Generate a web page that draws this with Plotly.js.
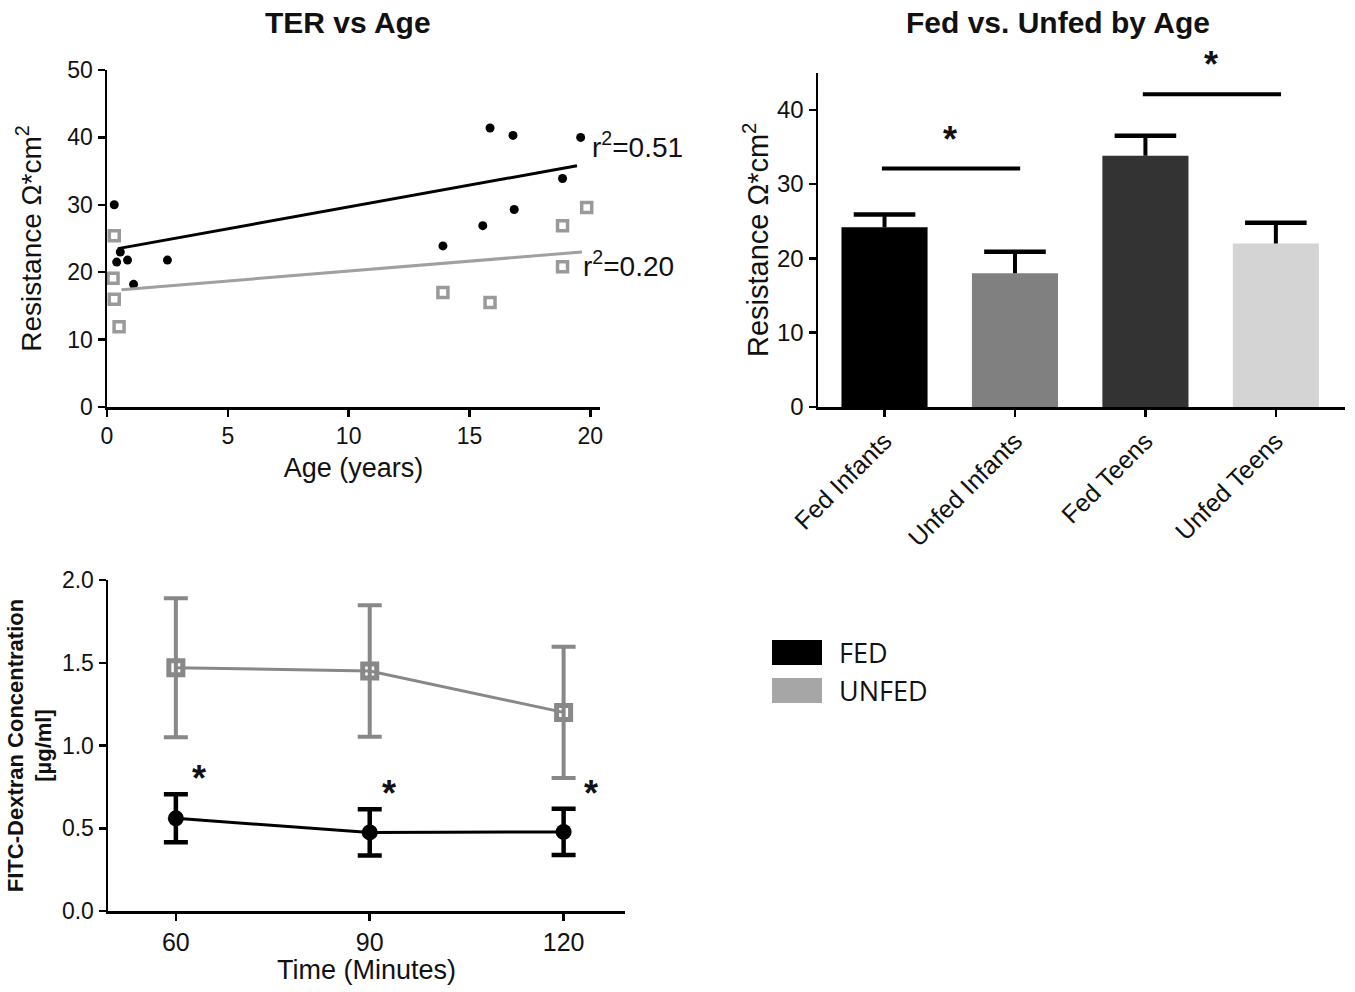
<!DOCTYPE html>
<html>
<head>
<meta charset="utf-8">
<script src="https://cdn.plot.ly/plotly-3.0.1.min.js"></script>
<style>html,body{margin:0;padding:0;background:#fff;}#chart{width:1355px;height:992px;}</style>
</head>
<body>
<div id="chart"></div>
<script>
// ---- Panel 1: TER vs Age ----
const fedAge = [0.3, 0.4, 0.55, 0.85, 1.1, 2.5, 13.9, 15.55, 15.85, 16.8, 16.85, 18.85, 19.6];
const fedTER = [30.0, 21.5, 23.0, 21.8, 18.2, 21.8, 23.9, 26.9, 41.4, 40.3, 29.3, 33.9, 40.0];
const unfedAge = [0.3, 0.25, 0.3, 0.5, 13.9, 15.85, 18.85, 18.85, 19.85];
const unfedTER = [25.4, 19.1, 16.0, 11.9, 17.0, 15.5, 20.8, 26.9, 29.6];
const fedFitX = [0.45, 19.45];
const fedFitY = [23.5, 35.8];
const unfedFitX = [0.6, 19.65];
const unfedFitY = [17.4, 23.0];
const r2Labels = ["r<sup>2</sup>=0.51", "r<sup>2</sup>=0.20"];

// ---- Panel 2: Fed vs Unfed by Age ----
const groups = ["Fed Infants", "Unfed Infants", "Fed Teens", "Unfed Teens"];
const groupMeans = [24.2, 18.0, 33.8, 22.0];
const groupErr = [1.7, 2.9, 2.7, 2.8];
const sigPairs = [[0, 1], [2, 3]];
const sigLevels = [32.1, 42.1];

// ---- Panel 3: FITC-Dextran ----
const timeMin = [60, 90, 120];
const fedFitc = [0.56, 0.475, 0.478];
const fedFitcErr = [0.145, 0.14, 0.14];
const unfedFitc = [1.47, 1.45, 1.20];
const unfedFitcErr = [0.42, 0.397, 0.397];
const fitcStarX = [63.6, 93, 124.2];
const fitcStarY = [0.80, 0.71, 0.71];

const legendNames = ["FED", "UNFED"];

const BLACK = '#000000', GRAY = '#9a9a9a';
const barColors = ['#000000', '#808080', '#333333', '#d4d4d4'];
const SANS = 'Liberation Sans, Arial, sans-serif';

// one-sided (upper) error whiskers for the bars, built from the data arrays
const whiskX = [], whiskY = [];
groupMeans.forEach((m, i) => { whiskX.push(i, i, null); whiskY.push(m, m + groupErr[i], null); });
const capX = groupMeans.map((m, i) => i);
const capY = groupMeans.map((m, i) => m + groupErr[i]);

const traces = [
  {x: fedAge, y: fedTER, type: 'scatter', mode: 'markers', xaxis: 'x', yaxis: 'y',
   marker: {color: BLACK, size: 9, symbol: 'circle'}, showlegend: false, cliponaxis: false},
  {x: unfedAge, y: unfedTER, type: 'scatter', mode: 'markers', xaxis: 'x', yaxis: 'y',
   marker: {color: GRAY, size: 10, symbol: 'square-open', line: {width: 3.5, color: GRAY}}, showlegend: false, cliponaxis: false},
  {x: fedFitX, y: fedFitY, type: 'scatter', mode: 'lines', xaxis: 'x', yaxis: 'y',
   line: {color: BLACK, width: 3}, showlegend: false},
  {x: unfedFitX, y: unfedFitY, type: 'scatter', mode: 'lines', xaxis: 'x', yaxis: 'y',
   line: {color: '#a0a0a0', width: 3}, showlegend: false},
  {x: groups.map((g, i) => i), y: groupMeans, type: 'bar', xaxis: 'x2', yaxis: 'y2', width: 0.66,
   marker: {color: barColors, line: {width: 0}}, showlegend: false},
  {x: whiskX, y: whiskY, type: 'scatter', mode: 'lines', xaxis: 'x2', yaxis: 'y2',
   line: {color: BLACK, width: 4}, showlegend: false, cliponaxis: false},
  {x: capX, y: capY, type: 'scatter', mode: 'markers', xaxis: 'x2', yaxis: 'y2',
   marker: {symbol: 'line-ew', size: 44, line: {width: 4.5, color: BLACK}}, showlegend: false, cliponaxis: false},
  {x: timeMin, y: unfedFitc, type: 'scatter', mode: 'lines+markers', xaxis: 'x3', yaxis: 'y3',
   line: {color: '#888888', width: 3},
   marker: {color: '#888888', size: 14, symbol: 'square-open', line: {width: 5, color: '#888888'}},
   error_y: {type: 'data', array: unfedFitcErr, color: '#888888', thickness: 4, width: 12},
   showlegend: false, cliponaxis: false},
  {x: timeMin, y: fedFitc, type: 'scatter', mode: 'lines+markers', xaxis: 'x3', yaxis: 'y3',
   line: {color: BLACK, width: 3},
   marker: {color: BLACK, size: 16, symbol: 'circle'},
   error_y: {type: 'data', array: fedFitcErr, color: BLACK, thickness: 4.5, width: 12},
   showlegend: false, cliponaxis: false}
];

const axisBase = {showline: true, linecolor: BLACK, linewidth: 2.5, ticks: 'outside', ticklen: 7,
  tickwidth: 2.5, tickcolor: BLACK, showgrid: false, zeroline: false, fixedrange: true};

const W = 1355, H = 992;
const px = v => v / W, py = v => 1 - v / H;

const annotations = [];
annotations.push({text: '<b>TER vs Age</b>', xref: 'paper', yref: 'paper', x: px(348), y: py(22),
  showarrow: false, font: {family: SANS, size: 30, color: '#111'}, xanchor: 'center', yanchor: 'middle'});
annotations.push({text: '<b>Fed vs. Unfed by Age</b>', xref: 'paper', yref: 'paper', x: px(1058), y: py(22),
  showarrow: false, font: {family: SANS, size: 30, color: '#111'}, xanchor: 'center', yanchor: 'middle'});
annotations.push({text: r2Labels[0], xref: 'x', yref: 'y', x: 20.0, y: 38.9, xanchor: 'left', yanchor: 'middle',
  showarrow: false, font: {family: SANS, size: 28, color: '#111'}});
annotations.push({text: '*', xref: 'x', yref: 'y', x: 24.0, y: 41.0, xanchor: 'center', yanchor: 'middle',
  showarrow: false, font: {family: SANS, size: 40, color: '#111'}});
annotations.push({text: r2Labels[1], xref: 'x', yref: 'y', x: 19.6, y: 21.2, xanchor: 'left', yanchor: 'middle',
  showarrow: false, font: {family: SANS, size: 28, color: '#111'}});
const shapes = [];
sigPairs.forEach((p, i) => {
  shapes.push({type: 'line', xref: 'x2', yref: 'y2', x0: p[0] - 0.02, x1: p[1] + 0.04, y0: sigLevels[i], y1: sigLevels[i],
    line: {color: BLACK, width: 4}});
  annotations.push({text: '<b>*</b>', xref: 'x2', yref: 'y2', x: (p[0] + p[1]) / 2, y: sigLevels[i] + 0.9,
    xanchor: 'center', yanchor: 'bottom', showarrow: false, font: {family: SANS, size: 36, color: '#111'}});
});
fitcStarX.forEach((sx, i) => {
  annotations.push({text: '<b>*</b>', xref: 'x3', yref: 'y3', x: sx, y: fitcStarY[i], xanchor: 'center', yanchor: 'middle',
    showarrow: false, font: {family: SANS, size: 36, color: '#111'}});
});
const legColors = [BLACK, '#a6a6a6'];
const legTop = [640, 678];
legendNames.forEach((n, i) => {
  shapes.push({type: 'rect', xref: 'paper', yref: 'paper', x0: px(772), x1: px(822), y0: py(legTop[i] + 25), y1: py(legTop[i]),
    fillcolor: legColors[i], line: {width: 0}});
  annotations.push({text: n, xref: 'paper', yref: 'paper', x: px(837), y: py(legTop[i] + 12.5), xanchor: 'left', yanchor: 'middle',
    showarrow: false, font: {family: 'Open Sans, Liberation Sans, sans-serif', size: 27, color: '#111'}});
});

const layout = {
  width: W, height: H, margin: {l: 0, r: 0, t: 0, b: 0}, paper_bgcolor: '#fff', plot_bgcolor: '#fff',
  showlegend: false,
  font: {family: SANS, color: '#111'},
  xaxis: Object.assign({}, axisBase, {domain: [px(107), px(600)], range: [0, 20.4], tickvals: [0, 5, 10, 15, 20],
    tickfont: {family: SANS, size: 23}, anchor: 'y',
    title: {text: 'Age (years)', font: {family: SANS, size: 27}, standoff: 10}}),
  yaxis: Object.assign({}, axisBase, {domain: [py(407), py(70)], range: [0, 50], tickvals: [0, 10, 20, 30, 40, 50],
    tickfont: {family: SANS, size: 23}, anchor: 'x',
    title: {text: 'Resistance Ω*cm<sup>2</sup>', font: {family: SANS, size: 28}, standoff: 18}}),
  xaxis2: Object.assign({}, axisBase, {domain: [px(818), px(1345)], range: [-0.51, 3.53], tickvals: [0, 1, 2, 3],
    ticktext: groups, tickangle: -45, tickfont: {family: SANS, size: 25}, anchor: 'y2'}),
  yaxis2: Object.assign({}, axisBase, {domain: [py(407), py(72.6)], range: [0, 45], tickvals: [0, 10, 20, 30, 40],
    tickfont: {family: SANS, size: 24}, anchor: 'x2',
    title: {text: 'Resistance Ω*cm<sup>2</sup>', font: {family: SANS, size: 29}, standoff: 0}}),
  xaxis3: Object.assign({}, axisBase, {domain: [px(108), px(625)], range: [49.5, 129.5], tickvals: timeMin,
    tickfont: {family: SANS, size: 25}, anchor: 'y3',
    title: {text: 'Time (Minutes)', font: {family: SANS, size: 27}, standoff: 4}}),
  yaxis3: Object.assign({}, axisBase, {domain: [py(911), py(580)], range: [0, 2], tickvals: [0, 0.5, 1, 1.5, 2],
    tickformat: '.1f', tickfont: {family: SANS, size: 23}, anchor: 'x3',
    title: {text: '<b>FITC-Dextran Concentration<br>[µg/ml]</b>', font: {family: SANS, size: 22}, standoff: 4}}),
  annotations: annotations,
  shapes: shapes
};

Plotly.newPlot('chart', traces, layout, {displayModeBar: false, staticPlot: true});
</script>
</body>
</html>
